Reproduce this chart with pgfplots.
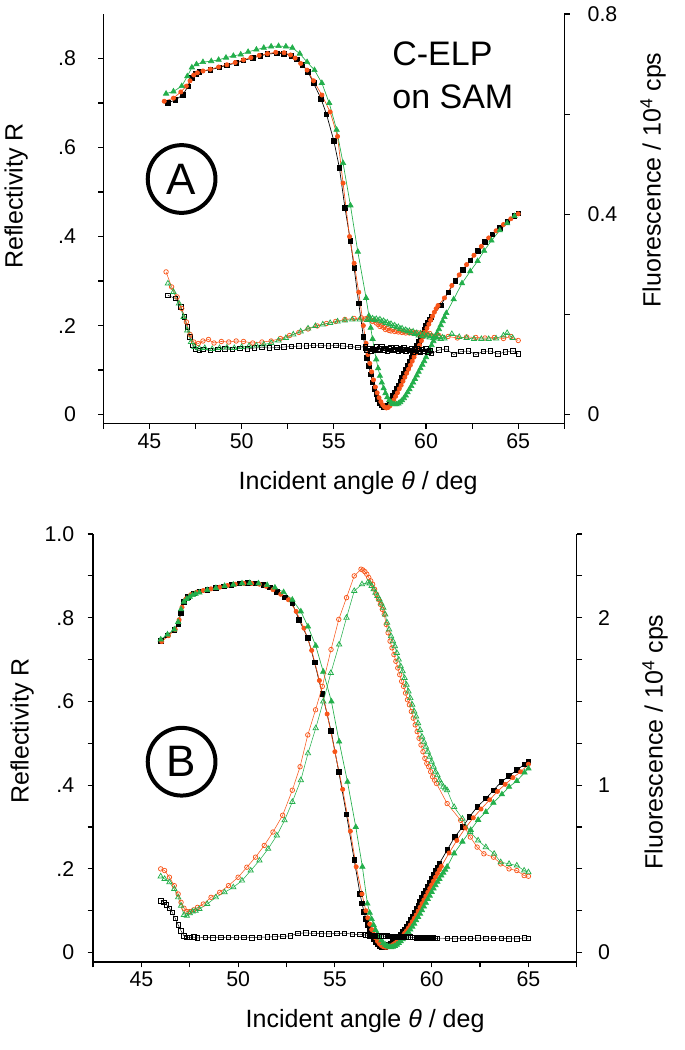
\documentclass[border=0pt]{standalone}
\usepackage{fontspec}
\setmainfont{Liberation Sans}
\usepackage{pgfplots}
\pgfplotsset{compat=1.18}
\definecolor{sorange}{RGB}{248,85,25}
\definecolor{sgreen}{RGB}{35,175,75}

\pgfplotsset{
  spr/.style={scale only axis, anchor=south west, xmin=42.5, xmax=67.5,
    tick align=outside, major tick length=4pt,
    tick style={black, line width=0.9pt},
    axis line style={line width=1pt},
    ticklabel style={font=\fontsize{16}{18}\selectfont},
    /pgf/number format/assume math mode=true,
    clip=false},
  rk/.style={black, line width=0.5pt, mark=square*, mark size=1.7pt, mark options={solid}},
  ro/.style={sorange, line width=0.5pt, mark=*, mark size=1.6pt, mark options={solid}},
  rg/.style={sgreen, line width=0.5pt, mark=triangle*, mark size=2.3pt, mark options={solid}},
  fk/.style={black, line width=0.3pt, mark=square, mark size=1.7pt, mark options={solid, line width=0.55pt}},
  fo/.style={sorange, line width=0.4pt, mark=o, mark size=1.7pt, mark options={solid, line width=0.55pt}},
  fg/.style={sgreen, line width=0.4pt, mark=triangle, mark size=2.3pt, mark options={solid, line width=0.55pt}},
}

\begin{document}
\begin{tikzpicture}
\begin{scope}[x=0.75pt, y=-0.75pt]
\path[use as bounding box] (0,0) rectangle (680,1050);
\end{scope}

% ---------- panel A, reflectivity ----------
\begin{axis}[spr, at={(74.475pt,-317.625pt)}, width=345.675pt, height=307.125pt,
  ymin=-0.02, ymax=0.9, axis x line*=bottom, axis y line*=left,
  xtick={42.5,45,47.5,50,52.5,55,57.5,60,62.5,65,67.5},
  xticklabels={,45,,50,,55,,60,,65,},
  ytick={0,0.1,0.2,0.3,0.4,0.5,0.6,0.7,0.8},
  yticklabels={0,,.2,,.4,,.6,,.8},
  yticklabel style={xshift=-13pt}]
\addplot[rk] coordinates {(46.0,0.700)(46.4,0.707)(46.8,0.718)(47.1,0.738)(47.3,0.757)(47.5,0.766)(47.7,0.770)(48.3,0.775)(48.8,0.780)(49.2,0.785)(49.7,0.790)(50.1,0.796)(50.6,0.801)(51.0,0.806)(51.4,0.810)(51.9,0.812)(52.3,0.811)(52.7,0.806)(53.0,0.798)(53.3,0.786)(53.6,0.770)(53.9,0.745)(54.3,0.710)(54.6,0.675)(55.0,0.615)(55.3,0.555)(55.6,0.465)(55.9,0.390)(56.1,0.330)(56.35,0.250)(56.6,0.175)(56.7,0.150)(56.8,0.128)(56.9,0.110)(57.0,0.090)(57.1,0.073)(57.2,0.058)(57.3,0.046)(57.4,0.035)(57.5,0.027)(57.6,0.021)(57.7,0.018)(57.8,0.018)(57.9,0.021)(58.0,0.027)(58.1,0.034)(58.2,0.042)(58.3,0.050)(58.4,0.058)(58.5,0.066)(58.6,0.075)(58.7,0.083)(58.8,0.092)(58.9,0.100)(59.0,0.109)(59.1,0.118)(59.2,0.127)(59.3,0.136)(59.4,0.145)(59.5,0.154)(59.6,0.163)(59.7,0.172)(59.8,0.181)(59.9,0.190)(60.0,0.199)(60.1,0.207)(60.2,0.214)(60.3,0.220)(60.8,0.245)(61.2,0.275)(61.6,0.300)(62.0,0.325)(62.4,0.347)(62.8,0.368)(63.2,0.388)(63.6,0.405)(64.0,0.420)(64.4,0.433)(64.8,0.446)(65.0,0.452)};
\addplot[ro] coordinates {(45.8,0.704)(46.3,0.711)(46.7,0.725)(47.0,0.738)(47.2,0.750)(47.4,0.763)(47.6,0.768)(47.9,0.772)(48.3,0.776)(48.75,0.781)(49.2,0.786)(49.65,0.791)(50.1,0.797)(50.5,0.802)(50.95,0.807)(51.4,0.811)(51.85,0.814)(52.3,0.813)(52.65,0.808)(52.9,0.801)(53.2,0.789)(53.55,0.774)(53.9,0.750)(54.35,0.718)(54.8,0.680)(55.2,0.625)(55.5,0.520)(55.85,0.400)(56.1,0.340)(56.35,0.275)(56.6,0.200)(56.75,0.160)(56.85,0.135)(56.95,0.115)(57.05,0.096)(57.15,0.078)(57.25,0.062)(57.35,0.049)(57.45,0.038)(57.55,0.029)(57.65,0.022)(57.75,0.017)(57.85,0.015)(57.95,0.016)(58.05,0.020)(58.15,0.026)(58.25,0.033)(58.35,0.041)(58.45,0.049)(58.55,0.058)(58.65,0.066)(58.75,0.075)(58.85,0.084)(58.95,0.093)(59.05,0.102)(59.15,0.111)(59.25,0.120)(59.35,0.129)(59.45,0.138)(59.55,0.147)(59.65,0.156)(59.75,0.166)(59.85,0.175)(59.95,0.185)(60.05,0.194)(60.15,0.203)(60.25,0.212)(60.35,0.221)(60.45,0.230)(60.55,0.238)(60.65,0.245)(61.0,0.262)(61.4,0.290)(61.8,0.314)(62.2,0.337)(62.6,0.358)(63.0,0.378)(63.4,0.397)(63.8,0.413)(64.2,0.427)(64.6,0.440)(65.0,0.451)};
\addplot[rg] coordinates {(45.9,0.721)(46.3,0.726)(46.75,0.738)(47.05,0.760)(47.3,0.780)(47.55,0.787)(47.9,0.792)(48.35,0.794)(48.75,0.797)(49.15,0.802)(49.55,0.806)(49.95,0.809)(50.35,0.815)(50.8,0.820)(51.2,0.824)(51.6,0.827)(52.0,0.828)(52.4,0.827)(52.75,0.824)(53.15,0.811)(53.55,0.792)(53.95,0.774)(54.35,0.745)(54.75,0.700)(55.15,0.640)(55.5,0.565)(55.9,0.470)(56.3,0.366)(56.75,0.262)(56.9,0.222)(57.0,0.195)(57.1,0.170)(57.2,0.145)(57.3,0.124)(57.4,0.104)(57.5,0.087)(57.6,0.072)(57.7,0.059)(57.8,0.048)(57.9,0.039)(58.0,0.032)(58.1,0.027)(58.2,0.024)(58.3,0.023)(58.4,0.023)(58.5,0.025)(58.6,0.028)(58.7,0.032)(58.8,0.037)(58.9,0.043)(59.0,0.050)(59.1,0.057)(59.2,0.064)(59.3,0.072)(59.4,0.080)(59.5,0.088)(59.6,0.096)(59.7,0.104)(59.8,0.112)(59.9,0.120)(60.0,0.129)(60.1,0.138)(60.2,0.147)(60.3,0.156)(60.4,0.165)(60.5,0.174)(60.6,0.183)(60.7,0.192)(60.8,0.201)(60.9,0.210)(61.0,0.219)(61.1,0.228)(61.5,0.259)(61.95,0.295)(62.4,0.322)(62.8,0.345)(63.15,0.368)(63.55,0.391)(64.0,0.414)(64.4,0.430)(64.8,0.446)};
\end{axis}

% ---------- panel A, fluorescence ----------
\begin{axis}[spr, at={(74.475pt,-317.625pt)}, width=345.675pt, height=307.125pt,
  ymin=-0.01778, ymax=0.8, axis x line=none, axis y line*=right,
  ytick={0,0.2,0.4,0.6,0.8}, yticklabels={0,,0.4,,0.8},
  yticklabel style={xshift=10pt}]
\addplot[fk] coordinates {(46.0,0.238)(46.4,0.232)(46.7,0.215)(46.9,0.195)(47.05,0.175)(47.2,0.155)(47.35,0.138)(47.5,0.130)(47.7,0.128)(47.9,0.130)(48.3,0.128)(48.7,0.130)(49.1,0.131)(49.5,0.130)(49.9,0.132)(50.3,0.131)(50.7,0.133)(51.1,0.134)(51.5,0.133)(51.9,0.134)(52.3,0.135)(52.7,0.136)(53.1,0.137)(53.5,0.137)(53.9,0.138)(54.3,0.138)(54.7,0.137)(55.1,0.138)(55.5,0.137)(55.9,0.136)(56.3,0.134)(56.7,0.136)(56.8,0.128)(56.9,0.132)(57.0,0.127)(57.1,0.131)(57.2,0.129)(57.3,0.135)(57.4,0.128)(57.5,0.131)(57.6,0.136)(57.7,0.129)(57.8,0.132)(57.9,0.127)(58.0,0.131)(58.1,0.133)(58.2,0.128)(58.3,0.130)(58.4,0.134)(58.5,0.127)(58.6,0.131)(58.7,0.129)(58.8,0.133)(58.9,0.126)(59.0,0.130)(59.1,0.128)(59.2,0.132)(59.3,0.125)(59.4,0.129)(59.5,0.131)(59.6,0.127)(59.7,0.124)(59.8,0.130)(59.9,0.126)(60.0,0.132)(60.1,0.125)(60.2,0.128)(60.3,0.122)(60.7,0.129)(61.1,0.131)(61.5,0.120)(61.9,0.126)(62.3,0.127)(62.7,0.120)(63.1,0.126)(63.5,0.127)(63.9,0.121)(64.3,0.125)(64.7,0.127)(65.0,0.121)};
\addplot[fo] coordinates {(45.9,0.285)(46.2,0.255)(46.5,0.235)(46.75,0.212)(47.0,0.185)(47.2,0.160)(47.4,0.145)(47.65,0.142)(47.9,0.147)(48.2,0.150)(48.5,0.143)(48.9,0.146)(49.3,0.145)(49.7,0.147)(50.1,0.146)(50.6,0.143)(51.1,0.145)(51.6,0.147)(52.1,0.152)(52.6,0.158)(53.1,0.164)(53.6,0.171)(54.1,0.177)(54.6,0.182)(55.1,0.186)(55.6,0.190)(56.1,0.192)(56.5,0.193)(56.7,0.191)(56.8,0.192)(56.9,0.190)(57.0,0.189)(57.1,0.186)(57.2,0.188)(57.3,0.183)(57.4,0.180)(57.5,0.176)(57.6,0.178)(57.7,0.174)(57.8,0.170)(57.9,0.172)(58.0,0.168)(58.1,0.167)(58.2,0.170)(58.3,0.166)(58.4,0.168)(58.5,0.165)(58.6,0.167)(58.7,0.164)(58.8,0.166)(58.9,0.163)(59.0,0.165)(59.1,0.163)(59.2,0.166)(59.3,0.162)(59.4,0.164)(59.5,0.161)(59.6,0.163)(59.7,0.160)(59.8,0.163)(59.9,0.161)(60.0,0.164)(60.1,0.160)(60.2,0.162)(60.3,0.158)(60.7,0.158)(61.2,0.156)(61.7,0.153)(62.2,0.155)(62.7,0.154)(63.2,0.153)(63.7,0.154)(64.2,0.152)(64.6,0.156)(65.0,0.148)};
\addplot[fg] coordinates {(46.0,0.262)(46.3,0.245)(46.6,0.222)(46.85,0.195)(47.05,0.168)(47.25,0.145)(47.45,0.135)(47.7,0.132)(48.0,0.133)(48.4,0.131)(48.8,0.133)(49.2,0.134)(49.6,0.133)(50.0,0.135)(50.4,0.137)(50.8,0.138)(51.2,0.140)(51.6,0.143)(52.0,0.148)(52.4,0.153)(52.8,0.160)(53.2,0.166)(53.6,0.172)(54.0,0.177)(54.4,0.180)(54.8,0.183)(55.2,0.186)(55.6,0.188)(56.0,0.190)(56.4,0.190)(56.8,0.189)(56.9,0.191)(57.0,0.190)(57.1,0.192)(57.2,0.189)(57.3,0.191)(57.4,0.188)(57.5,0.190)(57.6,0.186)(57.7,0.187)(57.8,0.183)(57.9,0.184)(58.0,0.180)(58.1,0.181)(58.2,0.177)(58.3,0.178)(58.4,0.174)(58.5,0.175)(58.6,0.171)(58.7,0.172)(58.8,0.168)(58.9,0.169)(59.0,0.166)(59.1,0.167)(59.2,0.163)(59.3,0.166)(59.4,0.161)(59.5,0.163)(59.6,0.158)(59.7,0.162)(59.8,0.157)(59.9,0.160)(60.0,0.156)(60.1,0.158)(60.2,0.154)(60.3,0.157)(60.4,0.153)(60.5,0.156)(60.6,0.152)(60.7,0.155)(60.8,0.151)(60.9,0.154)(61.0,0.152)(61.4,0.161)(61.8,0.155)(62.2,0.153)(62.6,0.151)(63.0,0.151)(63.4,0.151)(63.8,0.152)(64.2,0.158)(64.4,0.163)(64.7,0.153)};
\end{axis}

% ---------- panel B, reflectivity ----------
\begin{axis}[spr, at={(66.675pt,-721.5pt)}, width=362.85pt, height=321pt,
  ymin=-0.0225, ymax=1.0, axis x line*=bottom, axis y line*=left,
  xtick={42.5,45,47.5,50,52.5,55,57.5,60,62.5,65,67.5},
  xticklabels={,45,,50,,55,,60,,65,},
  ytick={0,0.1,0.2,0.3,0.4,0.5,0.6,0.7,0.8,0.9,1.0},
  yticklabels={0,,.2,,.4,,.6,,.8,,1.0},
  yticklabel style={xshift=-6.5pt}]
\addplot[rk] coordinates {(46.0,0.745)(46.35,0.758)(46.7,0.771)(46.9,0.785)(47.05,0.812)(47.2,0.838)(47.4,0.850)(47.7,0.858)(48.0,0.863)(48.4,0.867)(48.85,0.871)(49.25,0.875)(49.65,0.879)(50.05,0.882)(50.5,0.883)(50.9,0.882)(51.3,0.878)(51.65,0.873)(52.0,0.862)(52.4,0.849)(52.8,0.834)(53.15,0.795)(53.6,0.752)(53.95,0.693)(54.35,0.618)(54.8,0.530)(55.2,0.432)(55.6,0.330)(56.0,0.221)(56.3,0.140)(56.4,0.118)(56.5,0.098)(56.6,0.081)(56.7,0.066)(56.8,0.053)(56.9,0.042)(57.0,0.033)(57.1,0.026)(57.2,0.020)(57.3,0.016)(57.4,0.014)(57.5,0.013)(57.6,0.014)(57.7,0.016)(57.8,0.019)(57.9,0.022)(58.0,0.026)(58.1,0.030)(58.2,0.034)(58.3,0.039)(58.4,0.044)(58.5,0.050)(58.6,0.056)(58.7,0.063)(58.8,0.070)(58.9,0.078)(59.0,0.086)(59.1,0.095)(59.2,0.104)(59.3,0.113)(59.4,0.122)(59.5,0.131)(59.6,0.140)(59.7,0.149)(59.8,0.158)(59.9,0.167)(60.0,0.176)(60.1,0.186)(60.2,0.195)(60.3,0.204)(60.4,0.213)(60.8,0.245)(61.2,0.277)(61.6,0.300)(61.95,0.324)(62.35,0.348)(62.8,0.368)(63.2,0.388)(63.6,0.408)(64.0,0.422)(64.4,0.436)(64.8,0.450)(65.0,0.456)};
\addplot[ro] coordinates {(46.05,0.743)(46.4,0.757)(46.75,0.772)(46.95,0.795)(47.1,0.825)(47.3,0.845)(47.55,0.855)(47.85,0.861)(48.2,0.865)(48.6,0.869)(49.05,0.873)(49.45,0.877)(49.85,0.880)(50.3,0.882)(50.7,0.882)(51.1,0.880)(51.45,0.875)(51.8,0.867)(52.2,0.856)(52.6,0.843)(53.0,0.815)(53.4,0.775)(53.8,0.722)(54.2,0.650)(54.6,0.570)(55.0,0.480)(55.4,0.390)(55.8,0.290)(56.1,0.205)(56.4,0.140)(56.6,0.100)(56.7,0.083)(56.8,0.068)(56.9,0.055)(57.0,0.044)(57.1,0.035)(57.2,0.027)(57.3,0.021)(57.4,0.017)(57.5,0.014)(57.6,0.013)(57.7,0.013)(57.8,0.014)(57.9,0.016)(58.0,0.019)(58.1,0.022)(58.2,0.026)(58.3,0.030)(58.4,0.035)(58.5,0.040)(58.6,0.046)(58.7,0.052)(58.8,0.059)(58.9,0.066)(59.0,0.074)(59.1,0.082)(59.2,0.090)(59.3,0.099)(59.4,0.108)(59.5,0.117)(59.6,0.126)(59.7,0.135)(59.8,0.144)(59.9,0.153)(60.0,0.162)(60.1,0.171)(60.2,0.180)(60.3,0.189)(60.4,0.198)(60.5,0.206)(60.9,0.238)(61.3,0.268)(61.75,0.298)(62.15,0.322)(62.55,0.343)(63.0,0.365)(63.4,0.385)(63.8,0.402)(64.2,0.418)(64.6,0.432)(65.0,0.450)};
\addplot[rg] coordinates {(46.0,0.748)(46.35,0.760)(46.7,0.772)(46.9,0.790)(47.05,0.820)(47.2,0.838)(47.35,0.845)(47.5,0.850)(47.65,0.854)(47.8,0.857)(48.0,0.860)(48.4,0.866)(48.85,0.871)(49.3,0.876)(49.75,0.879)(50.2,0.882)(50.6,0.883)(51.05,0.882)(51.5,0.878)(51.9,0.872)(52.35,0.861)(52.8,0.843)(53.24,0.815)(53.61,0.779)(54.01,0.733)(54.4,0.671)(54.82,0.600)(55.22,0.504)(55.65,0.408)(56.08,0.300)(56.42,0.205)(56.68,0.117)(56.8,0.095)(56.9,0.080)(57.0,0.066)(57.1,0.054)(57.2,0.044)(57.3,0.036)(57.4,0.029)(57.5,0.023)(57.6,0.019)(57.7,0.016)(57.8,0.014)(57.9,0.013)(58.0,0.014)(58.1,0.016)(58.2,0.019)(58.3,0.023)(58.4,0.027)(58.5,0.032)(58.6,0.037)(58.7,0.043)(58.8,0.049)(58.9,0.055)(59.0,0.062)(59.1,0.069)(59.2,0.077)(59.3,0.085)(59.4,0.093)(59.5,0.101)(59.6,0.110)(59.7,0.119)(59.8,0.128)(59.9,0.136)(60.0,0.145)(60.1,0.153)(60.2,0.161)(60.3,0.169)(60.4,0.176)(60.5,0.184)(60.6,0.191)(60.7,0.198)(60.8,0.205)(61.16,0.237)(61.59,0.265)(62.02,0.293)(62.4,0.317)(62.8,0.336)(63.19,0.358)(63.63,0.378)(64.0,0.396)(64.4,0.410)(64.8,0.430)(65.0,0.440)};
\end{axis}

% ---------- panel B, fluorescence ----------
\begin{axis}[spr, at={(66.675pt,-721.5pt)}, width=362.85pt, height=321pt,
  ymin=-0.05625, ymax=2.5, axis x line=none, axis y line*=right,
  ytick={0,0.25,0.5,0.75,1,1.25,1.5,1.75,2,2.25,2.5},
  yticklabels={0,,,,1,,,,2,,},
  yticklabel style={xshift=8.5pt}]
\addplot[fk] coordinates {(46.0,0.31)(46.15,0.30)(46.3,0.285)(46.45,0.265)(46.6,0.24)(46.75,0.205)(46.9,0.165)(47.05,0.13)(47.2,0.10)(47.35,0.092)(47.5,0.090)(47.7,0.093)(47.9,0.088)(48.3,0.090)(48.7,0.089)(49.1,0.091)(49.5,0.090)(49.9,0.092)(50.3,0.091)(50.7,0.089)(51.1,0.092)(51.5,0.093)(51.9,0.095)(52.3,0.097)(52.7,0.100)(53.1,0.115)(53.5,0.118)(53.9,0.114)(54.3,0.113)(54.7,0.112)(55.1,0.114)(55.5,0.116)(55.9,0.110)(56.3,0.108)(56.6,0.105)(56.7,0.104)(56.8,0.101)(56.9,0.103)(57.0,0.100)(57.1,0.102)(57.2,0.099)(57.3,0.101)(57.4,0.098)(57.5,0.100)(57.6,0.097)(57.7,0.099)(57.8,0.096)(57.9,0.098)(58.0,0.095)(58.1,0.097)(58.2,0.094)(58.3,0.096)(58.4,0.093)(58.5,0.095)(58.6,0.092)(58.7,0.094)(58.8,0.091)(58.9,0.093)(59.0,0.090)(59.1,0.092)(59.2,0.089)(59.3,0.091)(59.4,0.088)(59.5,0.090)(59.6,0.087)(59.7,0.089)(59.8,0.086)(59.9,0.088)(60.0,0.085)(60.1,0.087)(60.2,0.084)(60.3,0.086)(60.8,0.085)(61.2,0.082)(61.6,0.086)(62.0,0.084)(62.4,0.087)(62.8,0.086)(63.2,0.085)(63.6,0.084)(64.0,0.083)(64.4,0.082)(64.8,0.088)(65.0,0.085)};
\addplot[fo] coordinates {(46.0,0.50)(46.2,0.49)(46.45,0.45)(46.7,0.40)(46.9,0.35)(47.05,0.30)(47.2,0.265)(47.35,0.245)(47.5,0.245)(47.7,0.255)(47.9,0.27)(48.2,0.29)(48.6,0.33)(49.05,0.36)(49.5,0.40)(50.0,0.45)(50.45,0.51)(50.9,0.57)(51.35,0.64)(51.8,0.72)(52.3,0.82)(52.8,0.97)(53.2,1.11)(53.6,1.30)(54.0,1.45)(54.35,1.59)(54.8,1.81)(55.2,1.99)(55.6,2.12)(56.0,2.25)(56.35,2.29)(56.45,2.285)(56.55,2.275)(56.65,2.26)(56.75,2.24)(56.85,2.22)(56.95,2.20)(57.05,2.17)(57.15,2.14)(57.25,2.11)(57.35,2.08)(57.45,2.05)(57.55,2.02)(57.65,1.96)(57.75,1.91)(57.85,1.86)(57.95,1.82)(58.05,1.78)(58.15,1.74)(58.25,1.70)(58.35,1.66)(58.45,1.62)(58.55,1.59)(58.65,1.55)(58.75,1.51)(58.85,1.48)(58.95,1.44)(59.05,1.40)(59.15,1.36)(59.25,1.32)(59.35,1.28)(59.45,1.24)(59.55,1.20)(59.65,1.16)(59.75,1.13)(59.85,1.11)(59.95,1.08)(60.05,1.05)(60.15,1.03)(60.25,1.01)(60.8,0.89)(61.5,0.79)(62.0,0.69)(62.35,0.63)(62.7,0.59)(63.2,0.57)(63.57,0.53)(64.0,0.50)(64.4,0.49)(64.78,0.46)(65.0,0.456)};
\addplot[fg] coordinates {(46.0,0.455)(46.2,0.44)(46.45,0.42)(46.7,0.38)(46.9,0.33)(47.05,0.28)(47.2,0.225)(47.35,0.22)(47.5,0.235)(47.65,0.245)(47.8,0.25)(48.0,0.26)(48.4,0.29)(48.85,0.33)(49.3,0.36)(49.75,0.39)(50.2,0.43)(50.65,0.49)(51.1,0.55)(51.55,0.62)(52.0,0.70)(52.4,0.79)(52.8,0.90)(53.24,1.03)(53.61,1.19)(54.01,1.34)(54.4,1.50)(54.79,1.67)(55.22,1.84)(55.6,2.00)(56.0,2.16)(56.4,2.20)(56.7,2.21)(56.8,2.205)(56.9,2.19)(57.0,2.17)(57.1,2.15)(57.2,2.13)(57.3,2.11)(57.4,2.085)(57.5,2.06)(57.6,2.02)(57.7,1.97)(57.8,1.93)(57.9,1.89)(58.0,1.86)(58.1,1.83)(58.2,1.79)(58.3,1.75)(58.4,1.71)(58.5,1.68)(58.6,1.64)(58.7,1.60)(58.8,1.56)(58.9,1.52)(59.0,1.48)(59.1,1.44)(59.2,1.41)(59.3,1.37)(59.4,1.33)(59.5,1.29)(59.6,1.26)(59.7,1.23)(59.8,1.20)(59.9,1.17)(60.0,1.14)(60.1,1.11)(60.2,1.08)(60.3,1.06)(60.4,1.03)(60.5,1.01)(60.6,0.99)(60.7,0.98)(60.8,0.97)(61.16,0.87)(61.59,0.80)(61.99,0.72)(62.4,0.67)(62.8,0.63)(63.23,0.59)(63.57,0.54)(64.0,0.53)(64.4,0.52)(64.78,0.49)(65.0,0.48)};
\end{axis}

% ---------- labels ----------
\begin{scope}[x=0.75pt, y=-0.75pt]
\def\lab{\fontsize{18.75}{22}\selectfont}
\node[rotate=90] at (12,196) {\lab Reflectivity R};
\node[rotate=90] at (649,180) {\lab Fluorescence / 10\textsuperscript{4} cps};
\node at (354,483) {\lab Incident angle \textit{θ} / deg};
\node[rotate=90] at (18,731) {\lab Reflectivity R};
\node[rotate=90] at (651,742) {\lab Fluorescence / 10\textsuperscript{4} cps};
\node at (361,1021) {\lab Incident angle \textit{θ} / deg};
\node[anchor=base west, inner sep=0pt] at (388,65) {\fontsize{25.5}{30}\selectfont C-ELP};
\node[anchor=base west, inner sep=0pt] at (388,108) {\fontsize{25.5}{30}\selectfont on SAM};
\draw[line width=3pt] (177.5,179) circle[radius=25.4pt];
\node at (177.5,179) {\fontsize{33}{36}\selectfont A};
\draw[line width=3pt] (177.5,761.7) circle[radius=25.4pt];
\node at (177.5,761.7) {\fontsize{33}{36}\selectfont B};
\end{scope}
\end{tikzpicture}
\end{document}
